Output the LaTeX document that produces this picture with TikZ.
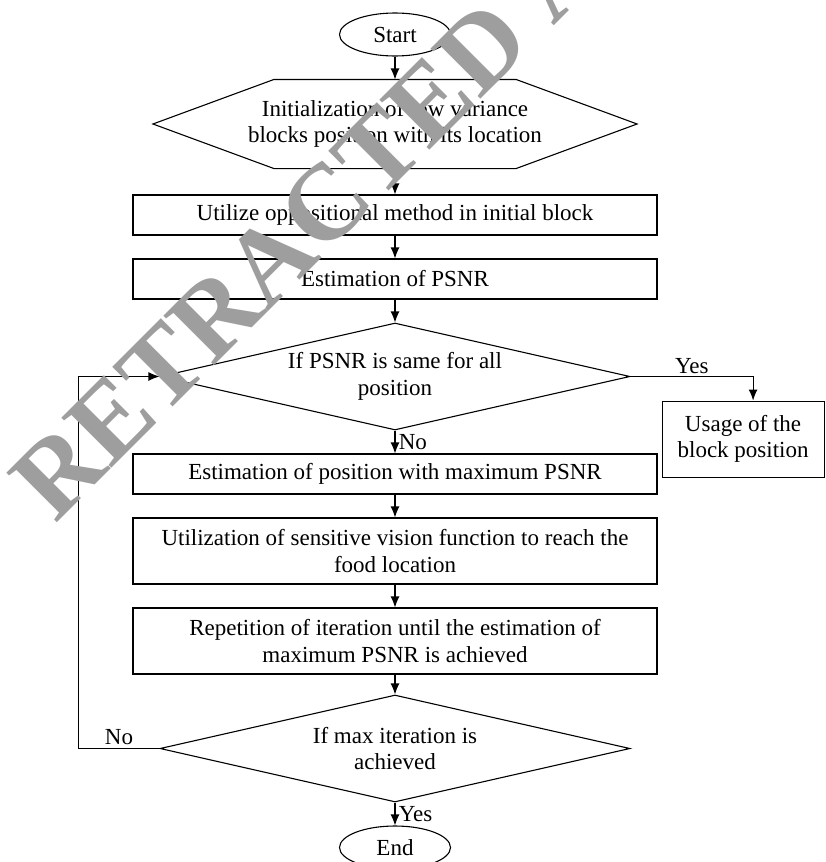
\documentclass[tikz,border=0pt]{standalone}
\usepackage{fontspec}
\setmainfont{Liberation Serif}
\usetikzlibrary{positioning,shapes.geometric,arrows.meta}
\definecolor{wmgray}{RGB}{158,158,158}
\tikzset{
>={Latex[length=11pt,width=9pt]},
every node/.style={font=\fontsize{23}{26.5}\selectfont},
}

\begin{document}
\begin{tikzpicture}
    [line width=1.1pt,
    node distance=22.9pt,
    block/.style={draw, rectangle, minimum width=524pt, minimum height=40pt, inner sep=0pt, align=center},
    tall/.style={block, minimum height=66pt},
    side/.style={draw, rectangle, minimum width=162pt, minimum height=76pt, inner sep=0pt, align=center},
    decision/.style={draw, diamond, aspect=4.4, minimum width=470pt, minimum height=107pt, inner sep=0pt, align=center},
    term/.style={draw, ellipse, minimum width=111pt, minimum height=43pt, inner sep=0pt},
    hexa/.style={minimum width=483pt, minimum height=88pt, inner sep=0pt, align=center}
    ]

    \useasboundingbox (0,0) rectangle (826pt,-862pt);

    \node [term] (start) at (395pt,-34.5pt) {Start};

    \node [hexa] (init) [below=of start]
    {
        Initialization of low variance
        \\
        blocks position with its location
    };
    \draw (init.west) -- ([xshift=121pt]init.north west) -- ([xshift=-121pt]init.north east)
        -- (init.east) -- ([xshift=-121pt]init.south east) -- ([xshift=121pt]init.south west) -- cycle;

    \node [block] (util) [below=25.9pt of init] {Utilize oppositional method in initial block};

    \node [block] (psnr) [below=of util] {Estimation of PSNR};

    \node [decision] (same) [below=of psnr]
    {
        If PSNR is same for all
        \\
        position
    };

    \node [side] (usage) [below right=24pt and 31pt of same.east]
    {
        Usage of the
        \\
        block position
    };

    \node [block] (maxpos) [below=of same] {Estimation of position with maximum PSNR};

    \node [tall] (vision) [below=of maxpos]
    {
        Utilization of sensitive vision function to reach the
        \\
        food location
    };

    \node [tall] (repeat) [below=of vision]
    {
        Repetition of iteration until the estimation of
        \\
        maximum PSNR is achieved
    };

    \node [decision] (maxit) [below=19.9pt of repeat]
    {
        If max iteration is
        \\
        achieved
    };

    \node [term] (stop) [below=of maxit] {End};

    \draw[->] (start) -- (init);
    \draw[->] (init) -- (util);
    \draw[->] (util) -- (psnr);
    \draw[->] (psnr) -- (same);
    \draw[->] (same) -- node[right] {No} (maxpos);
    \draw[->] (same.east) -| node[above, pos=0.25, inner sep=2pt] {Yes} ([xshift=10pt]usage.north);
    \draw[->] (maxpos) -- (vision);
    \draw[->] (vision) -- (repeat);
    \draw[->] (repeat) -- (maxit);
    \draw[->] (maxit) -- node[right] {Yes} (stop);
    \draw[->] (maxit.west) -- node[above, inner sep=3pt] {No} ++(-81pt,0) |- (same.west);

    \node [font=\fontsize{108}{108}\selectfont\bfseries, text=wmgray, rotate=45,
        anchor=base west, inner sep=0pt] (stamp) at (55pt,-525pt) {RETRACTED ARTICLE};

\end{tikzpicture}
\end{document}
